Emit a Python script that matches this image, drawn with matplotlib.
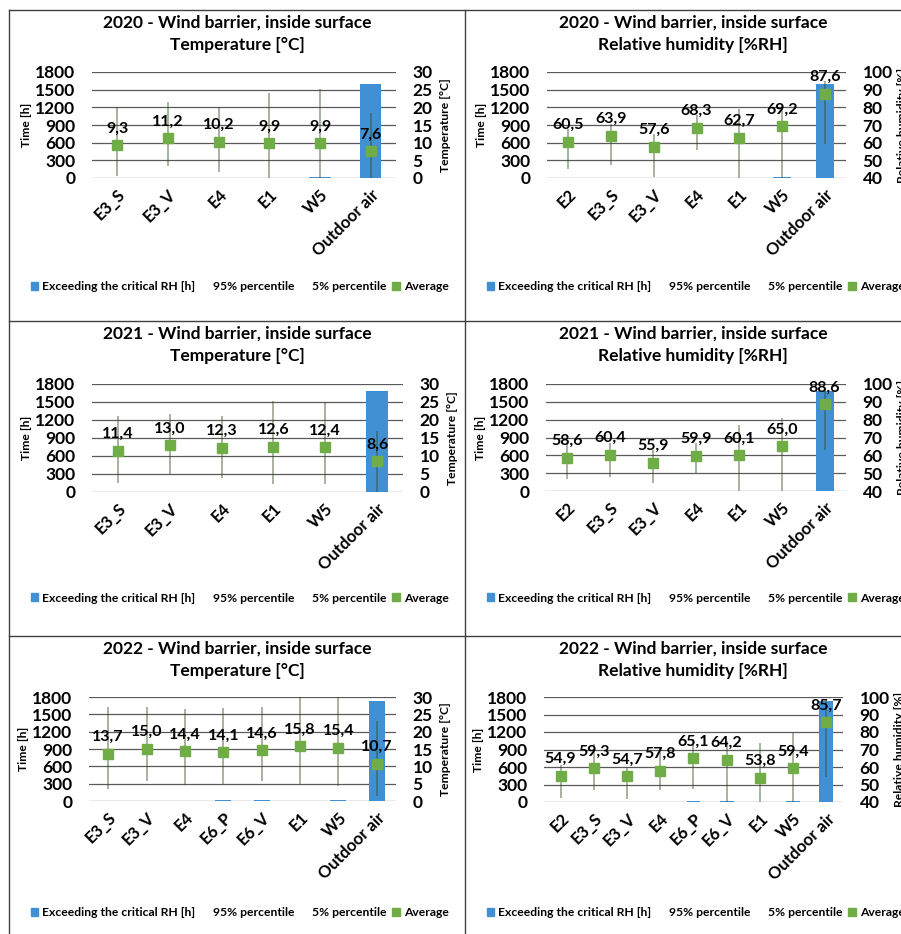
import matplotlib
matplotlib.use("Agg")
import matplotlib.pyplot as plt
from matplotlib.lines import Line2D
from matplotlib.patches import Patch

plt.rcParams["font.family"] = ["Lato", "DejaVu Sans"]
plt.rcParams["font.weight"] = "bold"

W, H = 901, 934

BAR_BLUE = "#4190d4"
AVG_GREEN = "#70ad47"
RANGE_COL = "#2f4a1a"
GRID_COL = "#5a5a5a"

# --- data -----------------------------------------------------------------
cats_t20 = ["E3_S", "E3_V", "E4", "E1", "W5", "Outdoor air"]
hours_t20 = [0, 0, 0, 0, 10, 1600]
p95_t20 = [20.2, 21.4, 20.2, 24.0, 25.2, 18.5]
p5_t20 = [0.6, 3.4, 1.7, 0.0, 0.0, 0.0]
avg_t20 = [9.3, 11.2, 10.2, 9.9, 9.9, 7.6]

cats_rh20 = ["E2", "E3_S", "E3_V", "E4", "E1", "W5", "Outdoor air"]
hours_rh20 = [0, 0, 0, 0, 0, 10, 1600]
p95_rh20 = [67.9, 70.8, 65.0, 75.5, 79.2, 82.0, 95.0]
p5_rh20 = [45.3, 47.5, 40.6, 55.7, 40.0, 40.0, 59.0]
avg_rh20 = [60.5, 63.9, 57.6, 68.3, 62.7, 69.2, 87.6]

cats_t21 = ["E3_S", "E3_V", "E4", "E1", "W5", "Outdoor air"]
hours_t21 = [0, 0, 0, 0, 0, 1685]
p95_t21 = [21.1, 21.8, 21.1, 25.3, 24.9, 16.9]
p5_t21 = [2.6, 5.0, 4.0, 2.3, 2.1, 0.0]
avg_t21 = [11.4, 13.0, 12.3, 12.6, 12.4, 8.6]

cats_rh21 = ["E2", "E3_S", "E3_V", "E4", "E1", "W5", "Outdoor air"]
hours_rh21 = [0, 0, 0, 0, 0, 0, 1685]
p95_rh21 = [66.8, 66.8, 63.0, 66.8, 76.8, 80.9, 97.5]
p5_rh21 = [46.6, 48.0, 44.3, 50.0, 40.0, 40.0, 63.1]
avg_rh21 = [58.6, 60.4, 55.9, 59.9, 60.1, 65.0, 88.6]

cats_t22 = ["E3_S", "E3_V", "E4", "E6_P", "E6_V", "E1", "W5", "Outdoor air"]
hours_t22 = [0, 0, 0, 10, 10, 0, 15, 1730]
p95_t22 = [27.2, 27.2, 26.5, 26.9, 27.2, 30.0, 30.0, 23.1]
p5_t22 = [3.5, 5.8, 4.6, 5.0, 5.8, 4.8, 4.4, 1.3]
avg_t22 = [13.7, 15.0, 14.4, 14.1, 14.6, 15.8, 15.4, 10.7]

cats_rh22 = ["E2", "E3_S", "E3_V", "E4", "E6_P", "E6_V", "E1", "W5", "Outdoor air"]
hours_rh22 = [0, 0, 0, 0, 10, 10, 0, 15, 1730]
p95_rh22 = [61.0, 73.0, 60.0, 71.2, 76.0, 75.0, 73.5, 79.3, 99.0]
p5_rh22 = [42.5, 46.7, 41.5, 46.7, 47.7, 40.0, 40.0, 40.0, 54.5]
avg_rh22 = [54.9, 59.3, 54.7, 57.8, 65.1, 64.2, 53.8, 59.4, 85.7]

TITLE = "{} - Wind barrier, inside surface"
TEMP_SUB = "Temperature [°C]"
RH_SUB = "Relative humidity [%RH]"
LEGEND_LABELS = ["Exceeding the critical RH [h]", "95% percentile",
                 "5% percentile", "Average"]


def px_rect(x0, y0, x1, y1):
    return [x0 / W, 1 - y1 / H, (x1 - x0) / W, (y1 - y0) / H]


def draw_panel(fig, rect, frame_x, top, year, kind, cats, hours, p95, p5, avg):
    x0, y0, x1, y1 = rect
    ax = fig.add_axes(px_rect(*rect))
    n = len(cats)
    xs = list(range(n))

    ax.bar(xs, hours, width=0.42, color=BAR_BLUE, zorder=2)
    ax.set_ylim(0, 1800)
    ax.set_yticks(range(0, 1801, 300))
    ax.set_xlim(-0.5, n - 0.5)
    ax.set_axisbelow(True)
    ax.yaxis.grid(True, color=GRID_COL, lw=0.9)
    for s in ax.spines.values():
        s.set_visible(False)
    ax.tick_params(axis="y", length=0, pad=12, labelsize=12.5)
    ax.tick_params(axis="x", length=0, pad=6, labelsize=12)
    ax.set_xticks(xs)
    ax.set_xticklabels(cats, rotation=45, ha="right", rotation_mode="anchor",
                       fontweight="bold")
    for lab in ax.get_yticklabels():
        lab.set_fontweight("bold")
    ax.set_ylabel("Time [h]", fontsize=8.7, fontweight="bold")
    ax.yaxis.set_label_coords(-60 / (x1 - x0), 0.5)

    ax2 = ax.twinx()
    if kind == "temp":
        ax2.set_ylim(0, 30)
        ax2.set_yticks(range(0, 31, 5))
        ax2.set_ylabel("Temperature [°C]", fontsize=8.7, fontweight="bold")
        ax2.yaxis.set_label_coords(1 + 44 / (x1 - x0), 0.5)
        sub = TEMP_SUB
    else:
        ax2.set_ylim(40, 100)
        ax2.set_yticks(range(40, 101, 10))
        ax2.set_ylabel("Relative humidity [%]", fontsize=8.7, fontweight="bold")
        ax2.yaxis.set_label_coords(1 + 51 / (x1 - x0), 0.5)
        sub = RH_SUB
    for s in ax2.spines.values():
        s.set_visible(False)
    ax2.tick_params(axis="y", length=0, pad=12, labelsize=12.5)
    for lab in ax2.get_yticklabels():
        lab.set_fontweight("bold")

    # 5-95 % percentile range and average
    ax2.vlines(xs, p5, p95, color=RANGE_COL, alpha=0.45, lw=1.3, zorder=3)
    ax2.plot(xs, avg, ls="none", marker="s", ms=6.8, color=AVG_GREEN, zorder=4)
    for x, v in zip(xs, avg):
        ax2.annotate(f"{v:.1f}".replace(".", ","), (x, v), xytext=(0, 7),
                     textcoords="offset points", ha="center", va="bottom",
                     fontsize=11.5, fontweight="bold", zorder=5)

    # titles and legend
    cx = frame_x + 228
    fig.text(cx / W, 1 - (top + 13) / H, TITLE.format(year), ha="center",
             va="center", fontsize=12.5, fontweight="bold")
    fig.text(cx / W, 1 - (top + 35) / H, sub, ha="center", va="center",
             fontsize=12.5, fontweight="bold")

    handles = [Patch(color=BAR_BLUE),
               Line2D([], [], ls="none"),
               Line2D([], [], ls="none"),
               Line2D([], [], ls="none", marker="s", ms=6, color=AVG_GREEN)]
    fig.legend(handles, LEGEND_LABELS, loc="center left", ncol=4,
               bbox_to_anchor=((frame_x + 22) / W, 1 - (top + 277) / H),
               frameon=False, fontsize=8.7, handlelength=0.6,
               handleheight=0.6, handletextpad=0.35, columnspacing=0.5,
               borderaxespad=0, borderpad=0)
    return ax, ax2


fig = plt.figure(figsize=(W / 100, H / 100), dpi=100)

draw_panel(fig, (92, 72, 396, 178), 9, 10, 2020, "temp",
           cats_t20, hours_t20, p95_t20, p5_t20, avg_t20)
draw_panel(fig, (547, 72, 846, 178), 465, 10, 2020, "rh",
           cats_rh20, hours_rh20, p95_rh20, p5_rh20, avg_rh20)
draw_panel(fig, (92, 384, 403, 492), 9, 321, 2021, "temp",
           cats_t21, hours_t21, p95_t21, p5_t21, avg_t21)
draw_panel(fig, (546, 384, 846, 491), 465, 321, 2021, "rh",
           cats_rh21, hours_rh21, p95_rh21, p5_rh21, avg_rh21)
draw_panel(fig, (89, 697, 396, 801), 9, 636, 2022, "temp",
           cats_t22, hours_t22, p95_t22, p5_t22, avg_t22)
draw_panel(fig, (544, 697, 843, 802), 465, 636, 2022, "rh",
           cats_rh22, hours_rh22, p95_rh22, p5_rh22, avg_rh22)

# panel frames
frame = dict(color="#404040", lw=1.0, transform=fig.transFigure)
fig.add_artist(Line2D([9 / W, 9 / W], [1 - 10 / H, 0], **frame))
fig.add_artist(Line2D([465 / W, 465 / W], [1 - 10 / H, 0], **frame))
for y in (10, 321, 636):
    fig.add_artist(Line2D([9 / W, 1], [1 - y / H, 1 - y / H], **frame))

fig.savefig("out.png", dpi=100)
